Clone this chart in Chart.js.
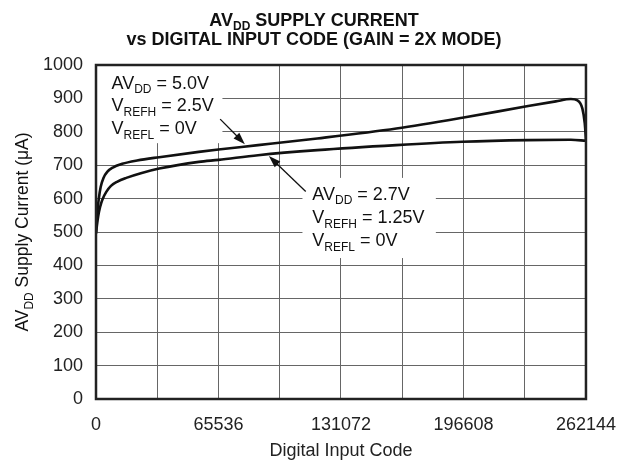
<!DOCTYPE html>
<html>
<head>
<meta charset="utf-8">
<script src="https://cdn.jsdelivr.net/npm/chart.js@4"></script>
<style>
  html, body { margin: 0; padding: 0; background: #fff; }
</style>
</head>
<body>
<canvas id="chart" width="631" height="464"></canvas>
<script>
// AVDD = 5.0V, VREFH = 2.5V
const codes5V = [0, 300, 800, 1500, 2500, 4000, 6000, 9000, 14000, 22000, 33800, 55000, 65536, 86700, 118400, 160700, 196000, 231200, 246000, 254100, 257600, 260200, 261500, 262144];
const current5V = [500, 530, 565, 600, 635, 662, 680, 693, 704, 714, 724, 740, 747, 760, 780, 810, 842, 877, 891, 898, 894, 870, 825, 775];
// AVDD = 2.7V, VREFH = 1.25V
const codes27V = [0, 500, 1200, 2200, 3500, 5500, 8000, 11500, 16200, 24000, 33800, 55000, 65536, 86700, 118400, 160700, 196000, 231200, 254100, 262144];
const current27V = [495, 520, 548, 575, 598, 620, 638, 651, 662, 676, 690, 710, 716, 730, 745, 760, 770, 775, 776, 773];

const xTickLabels = [0, 65536, 131072, 196608, 262144];
const FONT = '"Liberation Sans", Arial, Helvetica, sans-serif';

// annotation texts (segments: [text, subscript?])
const note5V = [
  [['AV', 0], ['DD', 1], [' = 5.0V', 0]],
  [['V', 0], ['REFH', 1], [' = 2.5V', 0]],
  [['V', 0], ['REFL', 1], [' = 0V', 0]]
];
const note27V = [
  [['AV', 0], ['DD', 1], [' = 2.7V', 0]],
  [['V', 0], ['REFH', 1], [' = 1.25V', 0]],
  [['V', 0], ['REFL', 1], [' = 0V', 0]]
];

function toPoints(xs, ys) {
  return xs.map((x, i) => ({ x: x, y: ys[i] }));
}

// texte avec indices
function drawRich(ctx, parts, x, y, size, weight, align) {
  const fontOf = sub => `${weight} ${sub ? Math.round(size * 0.68) : size}px ${FONT}`;
  const widths = parts.map(p => { ctx.font = fontOf(p[1]); return ctx.measureText(p[0]).width; });
  const total = widths.reduce((a, b) => a + b, 0);
  let cx = align === 'center' ? x - total / 2 : x;
  ctx.textAlign = 'left';
  ctx.textBaseline = 'alphabetic';
  parts.forEach((p, i) => {
    ctx.font = fontOf(p[1]);
    ctx.fillText(p[0], cx, p[1] ? y + size * 0.26 : y);
    cx += widths[i];
  });
}

function arrow(ctx, x1, y1, x2, y2) {
  const a = Math.atan2(y2 - y1, x2 - x1);
  const len = 12, w = 4;
  ctx.strokeStyle = '#111';
  ctx.fillStyle = '#111';
  ctx.lineWidth = 1.3;
  ctx.beginPath();
  ctx.moveTo(x1, y1);
  ctx.lineTo(x2 - Math.cos(a) * len * 0.8, y2 - Math.sin(a) * len * 0.8);
  ctx.stroke();
  ctx.beginPath();
  ctx.moveTo(x2, y2);
  ctx.lineTo(x2 - Math.cos(a) * len + Math.sin(a) * w, y2 - Math.sin(a) * len - Math.cos(a) * w);
  ctx.lineTo(x2 - Math.cos(a) * len - Math.sin(a) * w, y2 - Math.sin(a) * len + Math.cos(a) * w);
  ctx.closePath();
  ctx.fill();
}

const decor = {
  id: 'decor',
  beforeDatasetsDraw(chart) {
    // fonds blancs des annotations
    const { ctx, scales: { x, y } } = chart;
    ctx.save();
    ctx.fillStyle = '#fff';
    ctx.fillRect(x.getPixelForValue(500), y.getPixelForValue(997), x.getPixelForValue(67650) - x.getPixelForValue(500), y.getPixelForValue(766) - y.getPixelForValue(997));
    ctx.fillRect(x.getPixelForValue(110460), y.getPixelForValue(662), x.getPixelForValue(181820) - x.getPixelForValue(110460), y.getPixelForValue(422) - y.getPixelForValue(662));
    ctx.restore();
  },
  afterDraw(chart) {
    const { ctx, chartArea: ca, scales: { x, y } } = chart;
    ctx.save();
    // cadre
    ctx.strokeStyle = '#222';
    ctx.lineWidth = 2.5;
    ctx.strokeRect(ca.left, ca.top, ca.right - ca.left, ca.bottom - ca.top);

    ctx.fillStyle = '#111';
    // titre
    drawRich(ctx, [['AV', 0], ['DD', 1], [' SUPPLY CURRENT', 0]], 314, 25.5, 18, 'bold', 'center');
    drawRich(ctx, [['vs DIGITAL INPUT CODE (GAIN = 2X MODE)', 0]], 314, 45, 18, 'bold', 'center');

    // titre axe Y
    ctx.save();
    ctx.translate(28, (ca.top + ca.bottom) / 2);
    ctx.rotate(-Math.PI / 2);
    drawRich(ctx, [['AV', 0], ['DD', 1], [' Supply Current (\u03bcA)', 0]], 0, 0, 17.5, 'normal', 'center');
    ctx.restore();

    // annotations
    const base5 = [929.6, 862, 793];
    note5V.forEach((line, i) => drawRich(ctx, line, x.getPixelForValue(8300), y.getPixelForValue(base5[i]), 18, 'normal', 'left'));
    const base27 = [597, 527, 456.6];
    note27V.forEach((line, i) => drawRich(ctx, line, x.getPixelForValue(115740), y.getPixelForValue(base27[i]), 18, 'normal', 'left'));

    arrow(ctx, x.getPixelForValue(66434), y.getPixelForValue(838), x.getPixelForValue(79650), y.getPixelForValue(763));
    arrow(ctx, x.getPixelForValue(112205), y.getPixelForValue(621), x.getPixelForValue(92490), y.getPixelForValue(727.5));
    ctx.restore();
  }
};

const ctx = document.getElementById('chart').getContext('2d');
new Chart(ctx, {
  type: 'line',
  data: {
    datasets: [
      {
        label: 'AVDD = 5.0V',
        data: toPoints(codes5V, current5V),
        borderColor: '#111',
        borderWidth: 2.6,
        pointRadius: 0,
        cubicInterpolationMode: 'monotone',
        fill: false
      },
      {
        label: 'AVDD = 2.7V',
        data: toPoints(codes27V, current27V),
        borderColor: '#111',
        borderWidth: 2.6,
        pointRadius: 0,
        cubicInterpolationMode: 'monotone',
        fill: false
      }
    ]
  },
  options: {
    responsive: false,
    animation: false,
    layout: { padding: { top: 65, right: 39, left: 0, bottom: 0 } },
    plugins: { legend: { display: false }, tooltip: { enabled: false } },
    scales: {
      x: {
        type: 'linear',
        min: 0,
        max: 262144,
        afterFit: s => { s.height = 65; },
        grid: { color: '#666', lineWidth: 1, drawTicks: false },
        border: { display: false },
        ticks: {
          stepSize: 32768,
          autoSkip: false,
          maxRotation: 0,
          padding: 15,
          color: '#222',
          font: { size: 18, family: FONT },
          callback: v => xTickLabels.includes(v) ? String(v) : ''
        },
        title: {
          display: true,
          text: 'Digital Input Code',
          color: '#222',
          font: { size: 18, family: FONT },
          padding: { top: 0, bottom: 2 }
        }
      },
      y: {
        min: 0,
        max: 1000,
        afterFit: s => { s.width = 96; },
        grid: { color: '#666', lineWidth: 1, drawTicks: false },
        border: { display: false },
        ticks: {
          stepSize: 100,
          padding: 13,
          color: '#222',
          font: { size: 18, family: FONT },
          callback: v => String(v)
        }
      }
    }
  },
  plugins: [decor]
});
</script>
</body>
</html>
